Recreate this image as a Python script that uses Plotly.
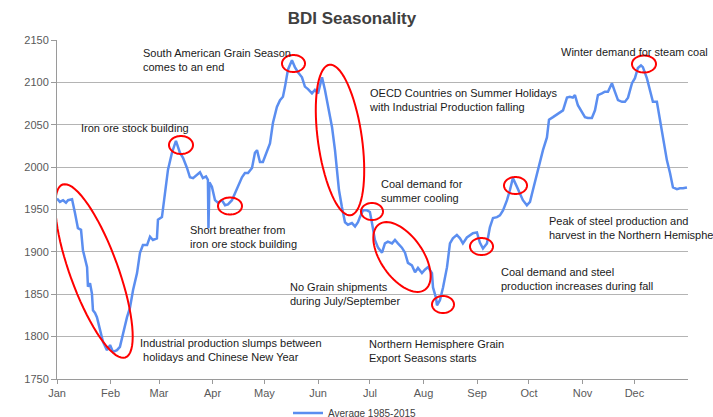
import math
import plotly.graph_objects as go

# ---------------- data ----------------
days = [0, 1.7, 3.5, 5.2, 6.4, 8.7, 10.4, 12.1, 13.9, 15.0,
        17.4, 17.9, 19.1, 20.2, 20.8, 22.0, 23.1, 24.9, 26.6, 28.9,
        30.7, 32.4, 34.7, 36.4, 38.2, 40.5, 42.2, 44.0, 46.3, 48.0,
        49.7, 52.1, 53.8, 55.5, 57.8, 58.4, 60.7, 62.5, 64.2, 66.5,
        68.8, 71.1, 72.9, 75.2, 76.9, 78.7, 81.0, 82.7, 84.4, 86.2,
        87.3, 87.6, 88.2, 89.6, 91.4, 93.1, 95.4, 97.2, 98.9, 101.2,
        102.9, 104.7, 107.0, 108.7, 110.5, 112.8, 114.5, 115.7, 117.4, 119.1,
        121.5, 123.2, 124.9, 127.2, 129.0, 130.7, 131.9, 133.6, 135.9, 137.6,
        139.4, 141.7, 143.4, 145.2, 147.5, 149.2, 151.0, 153.3, 155.0, 156.7,
        159.1, 160.8, 161.9, 163.1, 164.8, 166.6, 168.3, 170.6, 172.4, 174.1,
        175.2, 177.0, 179.3, 181.0, 182.2, 183.9, 185.7, 188.0, 189.7, 191.4,
        193.8, 195.5, 197.2, 199.5, 201.3, 203.0, 205.3, 207.1, 208.8, 211.1,
        212.8, 214.6, 216.9, 217.5, 219.2, 219.8, 221.5, 223.3, 225.6, 227.3,
        229.0, 231.3, 233.1, 234.8, 237.1, 240.6, 242.9, 244.6, 246.4, 248.7,
        250.4, 252.2, 254.5, 256.2, 258.0, 260.3, 262.0, 263.7, 266.0, 267.8,
        269.5, 271.8, 273.6, 275.3, 277.6, 279.3, 281.1, 283.4, 284.6, 286.9,
        289.2, 290.9, 292.7, 295.0, 296.7, 298.4, 299.6, 301.3, 303.6, 305.4,
        307.1, 309.4, 311.2, 312.9, 315.2, 316.9, 318.7, 321.0, 322.7, 324.5,
        326.8, 328.5, 330.3, 332.6, 334.3, 336.0, 337.8, 338.9, 341.2, 343.0,
        344.7, 347.0, 348.8, 350.5, 352.8, 354.6, 356.3, 358.6, 360.3, 362.1,
        364.4]

bdi_avg = [1963, 1959, 1961, 1958, 1961, 1962, 1946, 1928, 1926, 1902,
           1882, 1859, 1863, 1851, 1831, 1828, 1823, 1808, 1794, 1784,
           1790, 1782, 1784, 1788, 1804, 1823, 1834, 1855, 1875, 1899,
           1908, 1908, 1918, 1914, 1916, 1938, 1941, 1969, 1997, 2017,
           2031, 2017, 2011, 1999, 1988, 1987, 1991, 1994, 1987, 1989,
           1985, 1928, 1982, 1977, 1961, 1958, 1961, 1955, 1956, 1961,
           1969, 1977, 1988, 1993, 1993, 1999, 2017, 2020, 2006, 2006,
           2020, 2028, 2052, 2071, 2079, 2083, 2095, 2115, 2126, 2118,
           2112, 2106, 2095, 2092, 2087, 2091, 2087, 2106, 2091, 2071,
           2047, 2020, 2000, 1973, 1953, 1935, 1932, 1934, 1930, 1935,
           1941, 1949, 1949, 1947, 1934, 1914, 1905, 1899, 1910, 1912,
           1910, 1914, 1910, 1905, 1899, 1887, 1884, 1876, 1881, 1875,
           1879, 1882, 1875, 1858, 1846, 1837, 1843, 1858, 1882, 1910,
           1916, 1920, 1916, 1910, 1917, 1922, 1923, 1911, 1904, 1910,
           1929, 1940, 1941, 1943, 1949, 1961, 1973, 1987, 1977, 1969,
           1961, 1955, 1959, 1973, 1993, 2006, 2020, 2035, 2056, 2059,
           2062, 2065, 2067, 2082, 2083, 2082, 2085, 2073, 2065, 2059,
           2058, 2058, 2067, 2085, 2087, 2089, 2089, 2099, 2089, 2079,
           2077, 2077, 2082, 2099, 2105, 2117, 2120, 2118, 2105, 2091,
           2077, 2077, 2056, 2032, 2008, 1993, 1976, 1974, 1975, 1975,
           1976]

month_starts = [0, 31, 59, 90, 120, 151, 181, 212, 243, 273, 304, 334]
month_labels = ["Jan", "Feb", "Mar", "Apr", "May", "Jun",
                "Jul", "Aug", "Sep", "Oct", "Nov", "Dec"]
y_ticks = [1750, 1800, 1850, 1900, 1950, 2000, 2050, 2100, 2150]
series_name = "Average 1985-2015"

notes = [
    "South American Grain Season<br>comes to an end",
    "Iron ore stock building",
    "OECD Countries on Summer Holidays<br>with Industrial Production falling",
    "Winter demand for steam coal",
    "Short breather from<br>iron ore stock building",
    "Coal demand for<br>summer cooling",
    "Peak of steel production and<br>harvest in the Northern Hemisphere",
    "Coal demand and steel<br>production increases during fall",
    "No Grain shipments<br>during July/September",
    "Industrial production slumps between<br> holidays and Chinese New Year",
    "Northern Hemisphere Grain<br>Export Seasons starts",
]

# ---------------- layout geometry (pixels) ----------------
W, H = 713, 417
L, R, T, B = 57, 688, 40, 379
XMIN, XMAX = 0, 365
YMIN, YMAX = 1750, 2150


def px_to_data(px, py):
    x = XMIN + (px - L) * (XMAX - XMIN) / (R - L)
    y = YMAX - (py - T) * (YMAX - YMIN) / (B - T)
    return x, y


def ellipse_path(cx, cy, a, b, theta_deg, n=72):
    th = math.radians(theta_deg)
    s, c = math.sin(th), math.cos(th)
    pts = []
    for i in range(n):
        t = 2 * math.pi * i / n
        u, v = a * math.cos(t), b * math.sin(t)
        px = cx + u * s + v * c
        py = cy + u * c - v * s
        pts.append(px_to_data(px, py))
    return "M " + " L ".join(f"{x:.3f},{y:.3f}" for x, y in pts) + " Z"


ellipses = [
    (94, 271, 92, 24, 20),
    (181, 145, 9, 12, 0),
    (230, 206, 8.5, 12, 0),
    (293.5, 63.5, 8.5, 11.5, 0),
    (340, 140, 76, 22, 8),
    (372, 211.5, 8.5, 11, 0),
    (402, 257, 40, 21, 35),
    (443, 304.5, 8.5, 11, 0),
    (481.5, 246.5, 8.5, 11.5, 0),
    (515.5, 185.5, 8.5, 11.5, 0),
    (644, 64, 8.5, 12, 0),
]

note_pos = [
    (141, 53), (79, 128), (367, 93), (559, 52), (188, 230), (379, 184),
    (547, 221), (499, 272), (288, 287), (138, 343), (367, 344),
]

FONT = "Liberation Sans, Arial, sans-serif"

fig = go.Figure()
fig.add_trace(go.Scatter(
    x=days, y=bdi_avg, mode="lines", name=series_name,
    line=dict(color="#5b8ef0", width=2.5),
    showlegend=True,
))

shapes = [dict(type="path", path=ellipse_path(*e), xref="x", yref="y",
               line=dict(color="#ff0000", width=2), fillcolor="rgba(0,0,0,0)",
               layer="above") for e in ellipses]

annotations = []
for text, (px, py) in zip(notes, note_pos):
    annotations.append(dict(
        text=text, xref="paper", yref="paper",
        x=(px - L) / (R - L), y=(B - (py - 8)) / (B - T),
        xanchor="left", yanchor="top", align="left", showarrow=False,
        font=dict(family=FONT, size=11, color="#1a1a1a"),
    ))

fig.update_layout(
    width=W, height=H,
    margin=dict(l=L, r=W - R, t=T, b=H - B, pad=0, autoexpand=False),
    paper_bgcolor="white", plot_bgcolor="white",
    font=dict(family=FONT, size=11, color="#595959"),
    title=dict(text="<b>BDI Seasonality</b>", x=352 / W, xref="container",
               xanchor="center", y=1 - 18 / H, yanchor="middle",
               font=dict(family=FONT, size=17, color="#404040")),
    xaxis=dict(range=[XMIN, XMAX], tickmode="array", tickvals=month_starts,
               ticktext=month_labels, showgrid=False, zeroline=False,
               showline=True, linecolor="#9a9a9a", linewidth=1,
               ticks="outside", ticklen=4, tickcolor="#9a9a9a",
               tickfont=dict(size=11, color="#595959"), fixedrange=True),
    yaxis=dict(range=[YMIN, YMAX], tickmode="array", tickvals=y_ticks,
               showgrid=True, gridcolor="#b4b4b4", gridwidth=1,
               zeroline=False, showline=True, linecolor="#9a9a9a",
               ticks="outside", ticklen=5, tickcolor="#9a9a9a",
               tickfont=dict(size=11, color="#595959"), fixedrange=True),
    legend=dict(orientation="h", x=(355 - L) / (R - L), xanchor="center",
                y=-(413 - B) / (B - T), yanchor="middle",
                font=dict(size=10, color="#404040"),
                itemwidth=30, bgcolor="rgba(0,0,0,0)"),
    shapes=shapes,
    annotations=annotations,
)

fig.write_html(
    "out.html",
    config={"displayModeBar": False},
    post_script="document.body.style.margin='0';document.body.style.overflow='hidden';",
)
